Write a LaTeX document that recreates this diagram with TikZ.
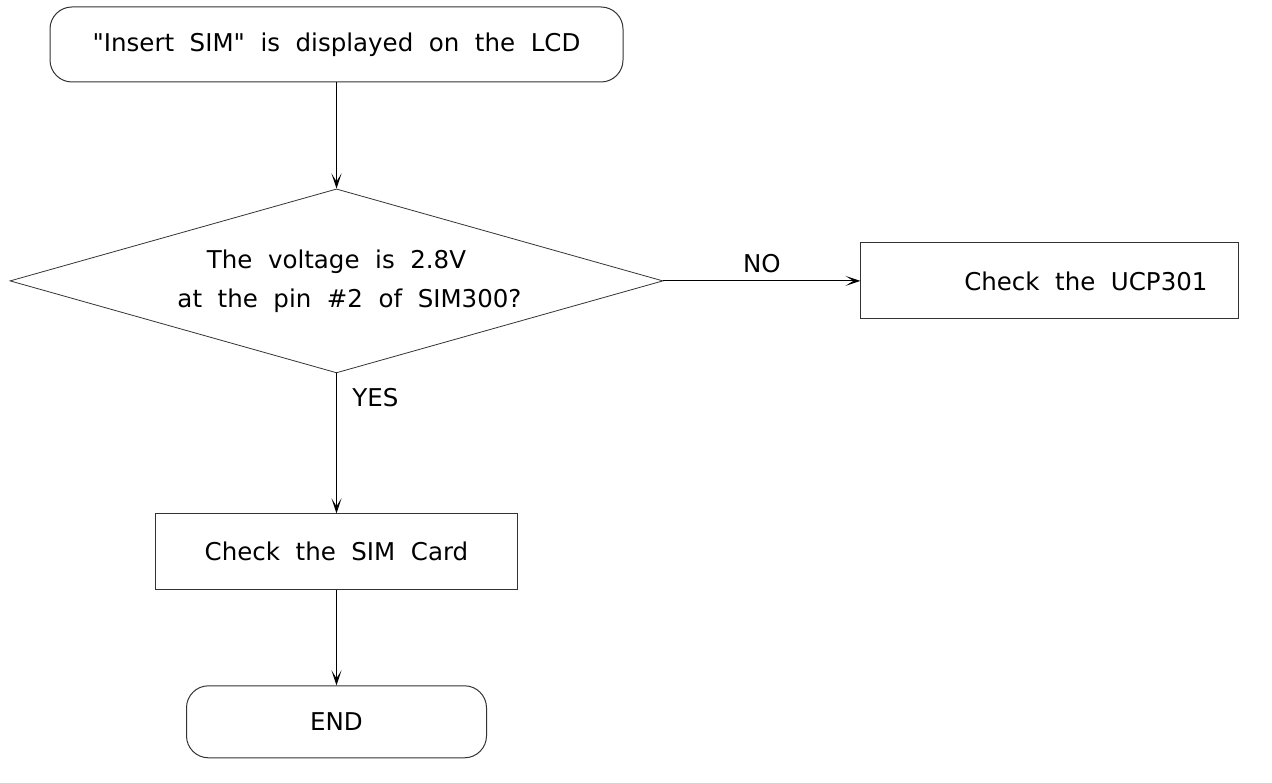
\documentclass[tikz,border=0pt]{standalone}
\usepackage{fontspec}
\newfontfamily\chartfont{DejaVu Sans}[WordSpace=2]
\usetikzlibrary{arrows.meta, positioning, shapes.geometric}

\begin{document}
\begin{tikzpicture}[
    x=1pt, y=1pt,
    every node/.style={align=center, font=\chartfont\fontsize{24.5}{39}\selectfont},
    terminal/.style={draw=black!80, line width=1pt, rectangle, rounded corners=22pt, minimum height=75pt},
    process/.style={draw=black!80, line width=1pt, rectangle, minimum height=76pt},
    decision/.style={draw=black!80, line width=0.8pt, diamond, aspect=3.55, inner sep=0pt, minimum width=653pt, minimum height=184pt},
    arrow/.style={-{Stealth[length=15pt, width=10pt, inset=8pt]}, line width=1pt}
]
\useasboundingbox (0,0) rectangle (1272,-783);

% Nodes
\node (start) [terminal, minimum width=573pt] at (336.5,-44.5) {"Insert SIM" is displayed on the LCD};
\node (volt) [decision, below=106pt of start] {The voltage is 2.8V\\\hspace*{26pt}at the pin \#2 of SIM300?};
\node (ucp) [process, minimum width=378pt, right=197pt of volt] {\hspace*{72pt}Check the UCP301};
\node (simcard) [process, minimum width=362pt, below=140pt of volt] {Check the SIM Card};
\node (finish) [terminal, minimum width=300pt, minimum height=72pt, below=95pt of simcard] {END};

% Arrows
\draw[arrow] (start) -- (volt);
\draw[arrow] (volt) -- node[above, inner sep=8pt] {NO} (ucp);
\draw[arrow] (volt) -- node[pos=0.17, right=12pt] {YES} (simcard);
\draw[arrow] (simcard) -- (finish);

\end{tikzpicture}
\end{document}
